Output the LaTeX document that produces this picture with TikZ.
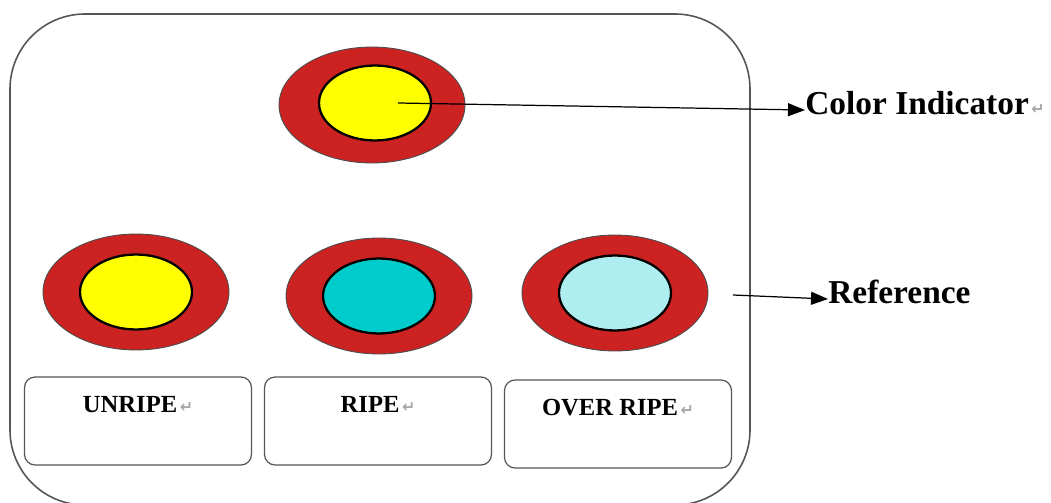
\documentclass[tikz,border=0pt]{standalone}
\usepackage{fontspec}
\setmainfont{Liberation Serif}
\newfontfamily\markfont{DejaVu Sans}
\usetikzlibrary{arrows.meta, positioning, shapes.geometric}
\definecolor{ringred}{HTML}{CC2222}
\definecolor{coreyellow}{HTML}{FFFF00}
\definecolor{corecyan}{HTML}{00CCCC}
\definecolor{corepale}{HTML}{AFEEF0}
\definecolor{edgegray}{HTML}{555555}
\newcommand{\retmark}{{\markfont\fontsize{9pt}{9pt}\selectfont\color{gray!70}\,↵}}

\begin{document}
\begin{tikzpicture}[
  x=0.02cm, y=-0.02cm,
  ring/.style={ellipse, draw=black!70, line width=0.5pt, fill=ringred, minimum width=3.72cm, minimum height=2.32cm, inner sep=0pt},
  core/.style={ellipse, draw=black, line width=1.3pt, minimum width=2.24cm, minimum height=1.5cm, inner sep=0pt},
  stagebox/.style={draw=edgegray, line width=0.7pt, rounded corners=6pt, minimum width=4.54cm, minimum height=1.76cm, inner sep=0pt},
  stagetext/.style={font=\fontsize{14pt}{14pt}\selectfont\bfseries, inner sep=0pt},
  note/.style={font=\fontsize{19pt}{19pt}\selectfont\bfseries, anchor=west, inner sep=0pt},
  arrow/.style={-{Triangle[length=3.4mm, width=2.6mm]}, line width=0.7pt, color=black}
]
  \useasboundingbox (0,0) rectangle (1051,503);
  \begin{scope}
    \clip (0,0) rectangle (1051,503);
    \draw[edgegray, line width=0.9pt, rounded corners=1.5cm] (10,14) rectangle (750,505);
  \end{scope}

  % indicator
  \node[ring] (topRing) at (372,105) {};
  \node[core, fill=coreyellow] (topCore) at (375,103) {};

  % reference row
  \node[ring] (unripeRing) at (136,292) {};
  \node[core, fill=coreyellow] (unripeCore) at (136,292) {};
  \node[ring] (ripeRing) at (379,296) {};
  \node[core, fill=corecyan] (ripeCore) at (379,296) {};
  \node[ring] (overRing) at (615,293) {};
  \node[core, fill=corepale] (overCore) at (615,293) {};

  % stage boxes
  \node[stagebox] (unripeBox) at (138,421) {};
  \node[stagebox] (ripeBox) at (378,421) {};
  \node[stagebox] (overBox) at (618,424) {};
  \node[stagetext, below=11pt of unripeBox.north] (unripeText) {UNRIPE\retmark};
  \node[stagetext, below=11pt of ripeBox.north] (ripeText) {RIPE\retmark};
  \node[stagetext, below=11pt of overBox.north] (overText) {OVER RIPE\retmark};

  % labels
  \node[note] (colorNote) at (805,103) {Color Indicator\retmark};
  \node[note] (refNote) at (828,292) {Reference};
  \coordinate (refStart) at (733,295);

  \draw[arrow] ([xshift=0.46cm]topCore.center) -- ([yshift=-4pt]colorNote.west);
  \draw[arrow] (refStart) -- ([yshift=-4pt]refNote.west);
\end{tikzpicture}
\end{document}
